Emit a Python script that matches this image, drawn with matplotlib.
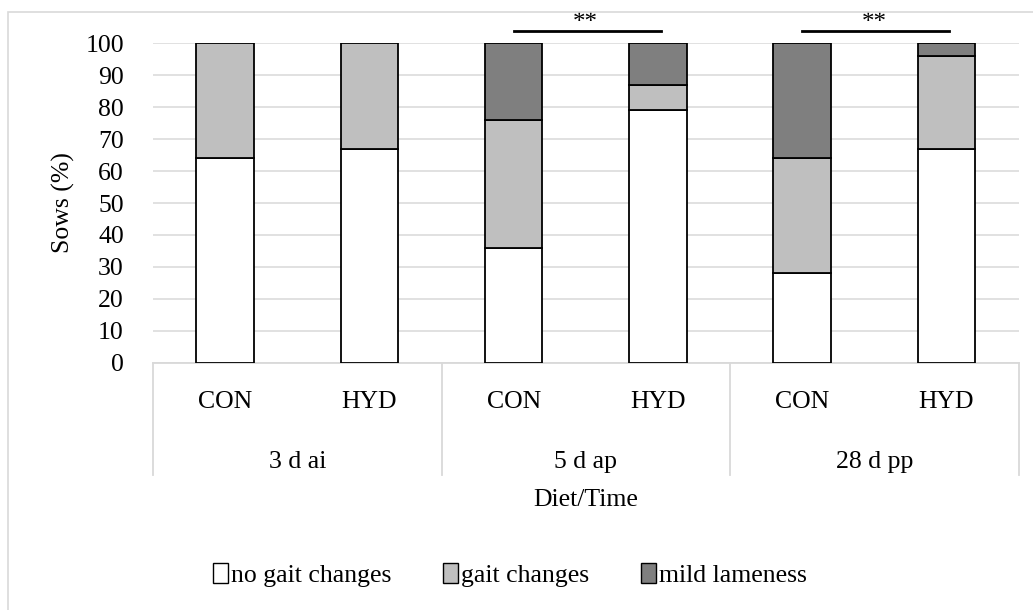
import matplotlib
matplotlib.use("Agg")
import matplotlib.pyplot as plt
from matplotlib.patches import Rectangle, Patch
import numpy as np

plt.rcParams['font.family'] = ['Liberation Serif', 'DejaVu Serif']

diets = ["CON", "HYD", "CON", "HYD", "CON", "HYD"]
times = ["3 d ai", "5 d ap", "28 d pp"]
no_gait = [64, 67, 36, 79, 28, 67]
gait = [36, 33, 40, 8, 36, 29]
mild = [0, 0, 24, 13, 36, 4]
series_names = ["no gait changes", "gait changes", "mild lameness"]
colors = ["#ffffff", "#bfbfbf", "#7f7f7f"]
sig_pairs = [(2, 3), (4, 5)]
sig_text = "**"
yticks = list(range(0, 101, 10))

FS = 18.5
W, H = 1033, 610
fig = plt.figure(figsize=(W / 100, H / 100), dpi=100)
ax = fig.add_axes([153 / W, 1 - 362.7 / H, (1018.5 - 153) / W, (362.7 - 43.3) / H])

# outer chart frame
fig.patches.append(Rectangle((7.5 / W, -0.1), 1.2, 1 - 12 / H + 0.1, transform=fig.transFigure,
                             fill=False, edgecolor="#d9d9d9", linewidth=1.2, zorder=0))

x = np.arange(len(diets))
bw = 0.4
bottom = np.zeros(len(diets))
for vals, col in zip([no_gait, gait, mild], colors):
    v = np.array(vals, dtype=float)
    mask = v > 0
    ax.bar(x[mask], v[mask], bw, bottom=bottom[mask], color=col, edgecolor="black",
           linewidth=1.3, zorder=3)
    bottom += v

ax.set_xlim(-0.5, len(diets) - 0.5)
ax.set_ylim(0, 100)
ax.set_yticks(yticks)
ax.tick_params(axis="y", length=0, pad=21, labelsize=FS)
ax.set_xticks([])
for s in ax.spines.values():
    s.set_visible(False)
ax.yaxis.grid(True, color="#d9d9d9", linewidth=1.1, zorder=0)
ax.set_axisbelow(True)

ax.set_ylabel("Sows (%)", fontsize=FS)
ax.yaxis.set_label_coords((75 - 153) / (1018.5 - 153), 0.5)

# multi-level category axis
tr = ax.get_xaxis_transform()
ph = 362.7 - 43.3
ybot = -(475 - 362.7) / ph
ax.plot([-0.5, len(diets) - 0.5], [0, 0], transform=tr, color="#d9d9d9", lw=1.3,
        clip_on=False, zorder=2)
for b in [-0.5, 1.5, 3.5, 5.5]:
    ax.plot([b, b], [0, ybot], transform=tr, color="#d9d9d9", lw=1.3, clip_on=False)
y_cat = -(402 - 362.7) / ph
y_grp = -(462 - 362.7) / ph
for xi, d in zip(x, diets):
    ax.text(xi, y_cat, d, transform=tr, ha="center", va="center", fontsize=FS)
for gi, t in enumerate(times):
    ax.text(2 * gi + 0.5, y_grp, t, transform=tr, ha="center", va="center", fontsize=FS)

fig.text((153 + 1018.5) / 2 / W, 1 - 500 / H, "Diet/Time", ha="center", va="center", fontsize=FS)

# significance markers
for a, b in sig_pairs:
    ax.plot([a, b + 0.02], [103.7, 103.7], color="black", lw=2, clip_on=False)
    ax.text((a + b) / 2, 106.2, sig_text, ha="center", va="center", fontsize=18, clip_on=False)

handles = [Patch(facecolor=c, edgecolor="black", linewidth=1.0) for c in colors]
fig.legend(handles, series_names, loc="center", bbox_to_anchor=(510 / W, 1 - 575 / H),
           ncol=3, frameon=False, fontsize=FS, handlelength=0.6, handleheight=0.8,
           handletextpad=0.12, columnspacing=2.0)

fig.savefig("out.png", dpi=100)
